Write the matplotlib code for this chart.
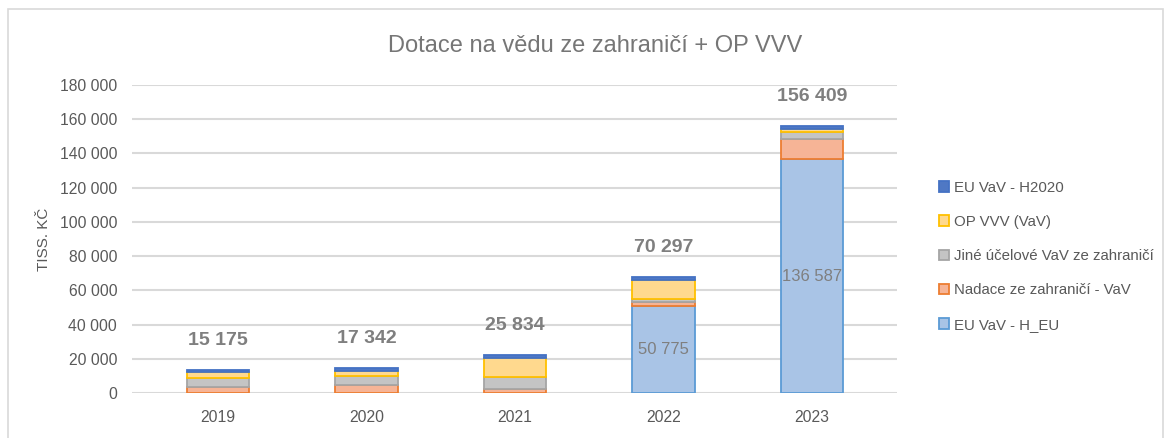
import numpy as np
import matplotlib
matplotlib.use("Agg")
import matplotlib.pyplot as plt
from matplotlib.patches import Rectangle
from matplotlib.ticker import FuncFormatter

plt.rcParams['font.family'] = ['Liberation Sans Narrow', 'Liberation Sans', 'DejaVu Sans']

roky = ['2019', '2020', '2021', '2022', '2023']

# hodnoty v tis. Kč (odhad z grafu)
h_eu = [0, 0, 0, 50775, 136587]
nadace = [3500, 4700, 2500, 2500, 11900]
jine = [5000, 5400, 6800, 1750, 4100]
op_vvv = [3500, 2500, 10900, 10900, 1600]
h2020 = [1600, 2300, 2300, 1900, 1750]

celkem = [15175, 17342, 25834, 70297, 156409]

serie = [
    ('EU VaV - H_EU', h_eu, '#a9c4e6', '#5b9bd5'),
    ('Nadace ze zahraničí - VaV', nadace, '#f6b496', '#ed7d31'),
    ('Jiné účelové VaV ze zahraničí', jine, '#c4c4c4', '#a5a5a5'),
    ('OP VVV (VaV)', op_vvv, '#ffd98e', '#ffc000'),
    ('EU VaV - H2020', h2020, '#4f78c4', '#4472c4'),
]

sedy = '#595959'

fig = plt.figure(figsize=(11.67, 4.38), dpi=100)
fig.patches.append(Rectangle((0.007, -0.01), 0.99, 0.99, transform=fig.transFigure,
                             fill=False, edgecolor='#d9d9d9', linewidth=1.2))
ax = fig.add_axes([0.1135, 0.1027, 0.6555, 0.7033])

x = np.arange(len(roky))
spodek = np.zeros(len(roky))
handles = []
for nazev, hodnoty, barva, okraj in serie:
    h = ax.bar(x, hodnoty, 0.42, bottom=spodek, color=barva, edgecolor=okraj,
               linewidth=1.3, label=nazev, zorder=3)
    handles.append(h)
    spodek = spodek + np.array(hodnoty)

# popisky uvnitř modrých sloupců
for i, v in enumerate(h_eu):
    if v > 0:
        ax.text(x[i], v / 2, f'{v:,}'.replace(',', ' '), ha='center', va='center',
                fontsize=12, color='#7f7f7f', zorder=4)

# součty nad sloupci
for i, v in enumerate(celkem):
    ax.annotate(f'{v:,}'.replace(',', ' '), (x[i], spodek[i]), xytext=(0, 15),
                textcoords='offset points', ha='center', va='bottom',
                fontsize=14, fontweight='bold', color='#7f7f7f')

ax.set_xlim(-0.576, 4.576)
ax.set_ylim(0, 180000)
ax.set_yticks(np.arange(0, 180001, 20000))
ax.yaxis.set_major_formatter(FuncFormatter(lambda v, p: f'{int(v):,}'.replace(',', ' ')))
ax.set_xticks(x)
ax.set_xticklabels(roky)
ax.tick_params(axis='both', length=0, labelsize=11.3, labelcolor=sedy)
ax.tick_params(axis='y', pad=11)
ax.tick_params(axis='x', pad=12)
ax.grid(axis='y', color='#d9d9d9', linewidth=1.5, zorder=0)
for s in ax.spines.values():
    s.set_visible(False)

ax.set_ylabel('TISS. KČ', fontsize=11, color=sedy, labelpad=6)
fig.text(0.51, 0.895, 'Dotace na vědu ze zahraničí + OP VVV', ha='center', va='center',
         fontsize=17, color='#767676')

leg = fig.legend(handles[::-1], [s[0] for s in serie][::-1], loc='center left',
                 bbox_to_anchor=(0.793, 0.415), frameon=False, fontsize=10.8,
                 handlelength=0.7, handleheight=0.7, handletextpad=0.3,
                 labelspacing=1.35, labelcolor=sedy)

fig.savefig('out.png', dpi=100)
